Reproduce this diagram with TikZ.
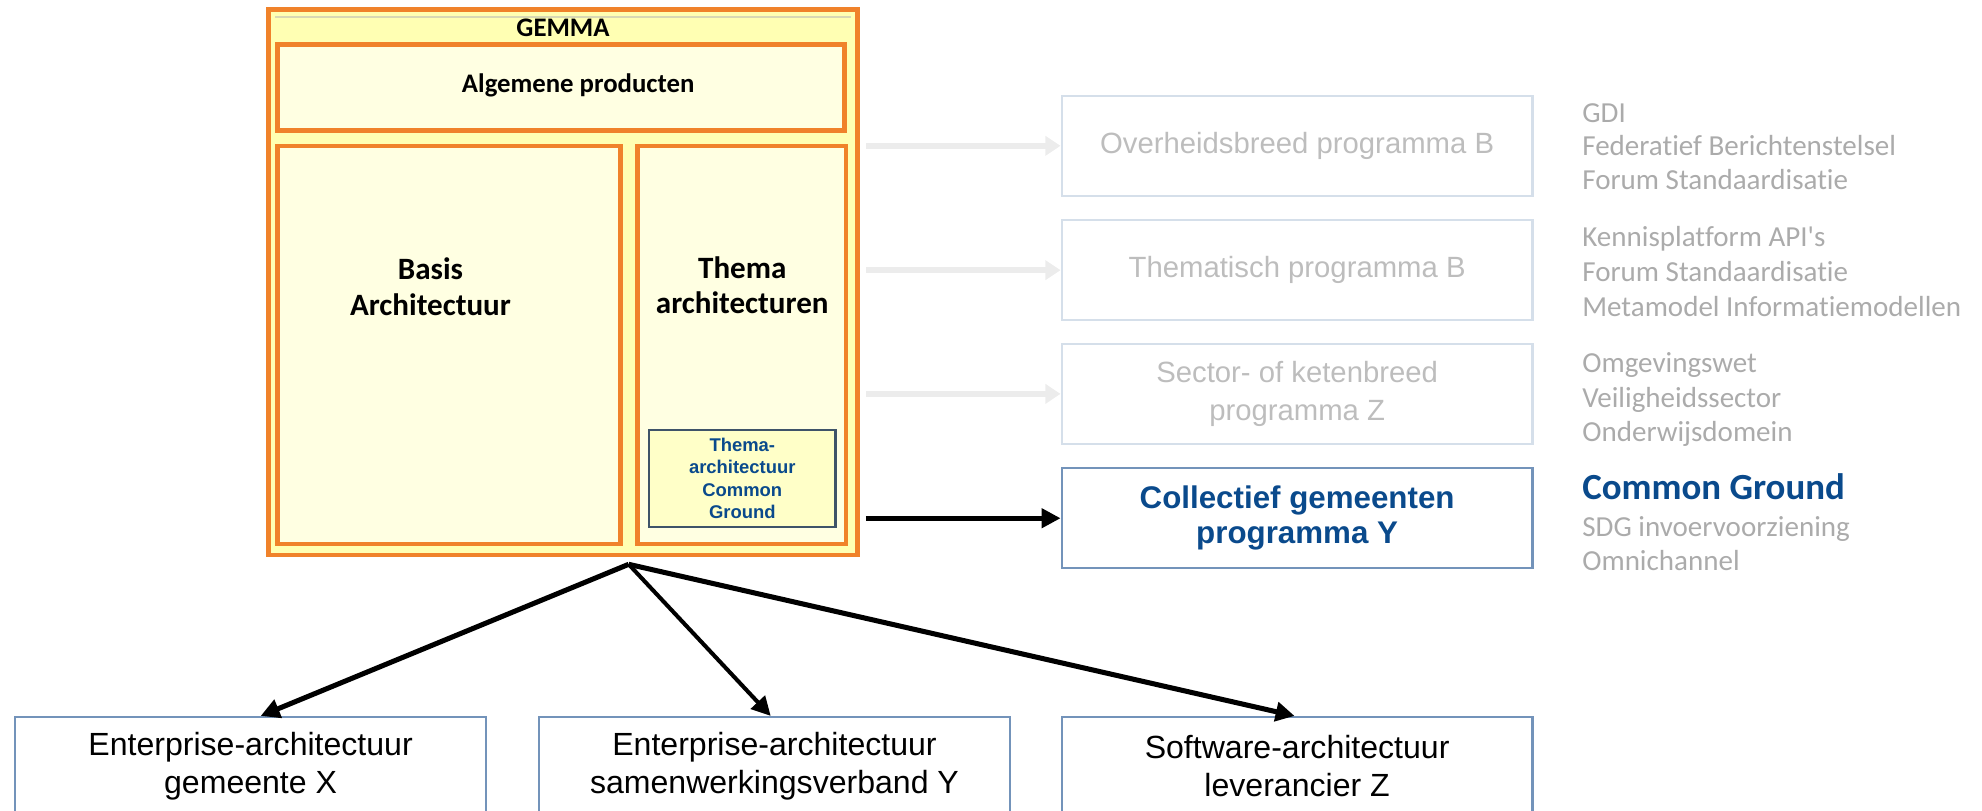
\documentclass[tikz,border=0pt]{standalone}
\usepackage{fontspec}
\setmainfont{Liberation Sans}
\newfontfamily\calibri[RawFeature={-liga;-clig;-calt;-dlig}]{Carlito}
\usepackage{tikz}
\usetikzlibrary{arrows.meta}
\definecolor{gemmaorange}{HTML}{F0822A}
\definecolor{gemmayellow}{HTML}{FFFFB3}
\definecolor{paleyellow}{HTML}{FFFFE2}
\definecolor{cgyellow}{HTML}{FFFFC8}
\definecolor{slateline}{HTML}{3F5469}
\definecolor{cgblue}{HTML}{0A4A8C}
\definecolor{fadeline}{HTML}{D5DFEA}
\definecolor{fadetext}{HTML}{BDBDBD}
\definecolor{listgray}{HTML}{ABABAB}
\definecolor{steelline}{HTML}{7393BA}
\definecolor{arrowgray}{HTML}{ECECEC}
\definecolor{headgray}{HTML}{D8D8B4}
\tikzset{
  gemmabox/.style={draw=gemmaorange,line width=1.85pt,fill=gemmayellow,inner sep=0pt},
  orangebox/.style={draw=gemmaorange,line width=1.75pt,fill=paleyellow,inner sep=0pt},
  gemmalabel/.style={font=\calibri\bfseries\fontsize{10.6}{13}\selectfont,inner sep=0pt},
  archlabel/.style={font=\calibri\bfseries\fontsize{12.3}{14}\selectfont,align=center,inner sep=0pt},
  cgbox/.style={draw=slateline,line width=1pt,fill=cgyellow,align=center,text=cgblue,
    font=\bfseries\fontsize{7.3}{8.85}\selectfont,minimum width=74pt,minimum height=38.45pt,inner sep=0pt},
  progbox/.style={draw=fadeline,line width=0.9pt,minimum width=186.5pt,minimum height=39.5pt,
    align=center,text=fadetext,font=\fontsize{11.6}{15}\selectfont,inner sep=0pt},
  ourbox/.style={progbox,draw=steelline,text=cgblue,font=\bfseries\fontsize{12.4}{14}\selectfont},
  archbox/.style={draw=steelline,line width=0.9pt,fill=white,minimum width=186.5pt,minimum height=39pt,
    align=center,font=\fontsize{12.7}{15}\selectfont,inner sep=0pt},
  listtext/.style={text=listgray,font=\calibri\fontsize{11.5}{13.75}\selectfont,inner sep=0pt,anchor=base west},
  fadearrow/.style={draw=arrowgray,line width=2.5pt,-{Triangle[length=6pt,width=7.5pt]}},
  mainarrow/.style={draw=black,line width=2pt,-{Triangle[length=7.5pt,width=7.5pt]}}
}
\begin{document}
\begin{tikzpicture}[x=0.5pt,y=-0.5pt]
\useasboundingbox (0,0) rectangle (1570,642.4);
% GEMMA block
\node (gemma) at (445.8,223.45)[gemmabox,minimum width=233.2pt,minimum height=216.05pt] {};
\draw[headgray,line width=0.6pt] (218,13.5) -- (674,13.5);
\node (gemmatitle) at (446,22)[gemmalabel] {GEMMA};
\node (alg) at (444.35,69.4)[orangebox,minimum width=224.65pt,minimum height=34.1pt] {};
\node (algtitle) at (458,67.5)[gemmalabel] {Algemene producten};
\node (basis) at (355.6,273.4)[orangebox,minimum width=135.9pt,minimum height=157.6pt] {};
\node (basistitle) at (341,227)[archlabel] {Basis\\Architectuur};
\node (thema) at (587.5,273.4)[orangebox,minimum width=82.5pt,minimum height=157.6pt] {};
\node (thematitle) at (588,226)[archlabel] {Thema\\architecturen};
\node (cgthema) at (588,379)[cgbox] {Thema-\\architectuur\\Common\\Ground};
% programmes
\node (ovb) at (1027.5,115.5)[progbox] {Overheidsbreed programma B};
\node (thp) at (1027.5,214)[progbox] {Thematisch programma B};
\node (skp) at (1027.5,312)[progbox] {Sector- of ketenbreed\\programma Z};
\node (cgp) at (1027.5,410.5)[ourbox] {Collectief gemeenten\\programma Y};
% lists
\foreach \ypos/\entry [count=\i] in {97/GDI,123/Federatief Berichtenstelsel,150/Forum Standaardisatie,
  195/Kennisplatform API's,223/Forum Standaardisatie,251/Metamodel Informatiemodellen,
  295/Omgevingswet,323/Veiligheidssector,350/Onderwijsdomein,
  425/SDG invoervoorziening,452/Omnichannel}
  \node (item\i) at (1253,\ypos)[listtext] {\entry};
\node (cgitem) at (1253,395.5)[listtext,text=cgblue,font=\calibri\bfseries\fontsize{14.6}{16}\selectfont] {Common Ground};
% architectures
\node (eagem) at (198.5,607)[archbox] {Enterprise-architectuur\\gemeente X};
\node (easwv) at (613.5,607)[archbox] {Enterprise-architectuur\\samenwerkingsverband Y};
\node (swlev) at (1027.5,607)[archbox] {Software-architectuur\\leverancier Z};
% arrows
\draw[fadearrow] ([xshift=2.5pt]gemma.east |- ovb.west) -- (ovb.west);
\draw[fadearrow] ([xshift=2.5pt]gemma.east |- thp.west) -- (thp.west);
\draw[fadearrow] ([xshift=2.5pt]gemma.east |- skp.west) -- (skp.west);
\draw[mainarrow,line width=1.8pt] ([xshift=2.5pt]gemma.east |- cgp.west) -- (cgp.west);
\coordinate (fork) at (498,447);
\draw[mainarrow] (fork) -- ([xshift=4pt]eagem.north);
\draw[mainarrow,line width=1.6pt] (fork) -- ([xshift=-1.5pt]easwv.north);
\draw[mainarrow] (fork) -- ([xshift=-1pt]swlev.north);
\end{tikzpicture}
\end{document}
